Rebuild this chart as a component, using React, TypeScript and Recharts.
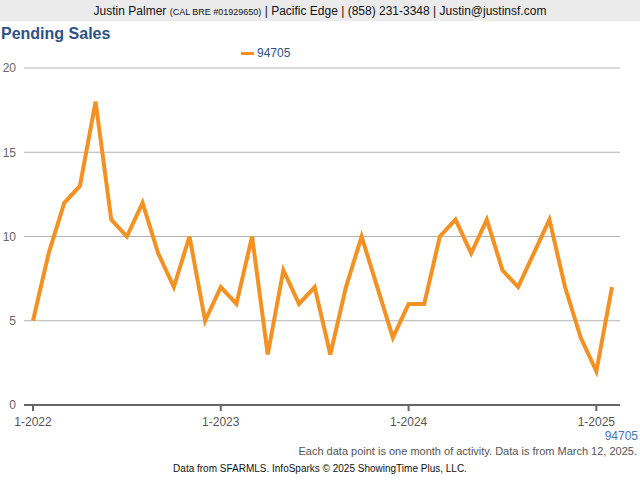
import React from 'react';
import {
  LineChart,
  Line,
  XAxis,
  YAxis,
  CartesianGrid,
} from 'recharts';

// Monthly pending sales, 94705, Jan 2022 – Feb 2025
const MONTHS = [
  '1-2022', '2-2022', '3-2022', '4-2022', '5-2022', '6-2022', '7-2022', '8-2022', '9-2022', '10-2022', '11-2022', '12-2022',
  '1-2023', '2-2023', '3-2023', '4-2023', '5-2023', '6-2023', '7-2023', '8-2023', '9-2023', '10-2023', '11-2023', '12-2023',
  '1-2024', '2-2024', '3-2024', '4-2024', '5-2024', '6-2024', '7-2024', '8-2024', '9-2024', '10-2024', '11-2024', '12-2024',
  '1-2025', '2-2025',
];
const PENDING = [
  5, 9, 12, 13, 18, 11, 10, 12, 9, 7, 10, 5,
  7, 6, 10, 3, 8, 6, 7, 3, 7, 10, 7, 4,
  6, 6, 10, 11, 9, 11, 8, 7, 9, 11, 7, 4,
  2, 7,
];
const Y_TICKS = [0, 5, 10, 15, 20];
const SERIES_NAME = '94705';

const ORANGE = '#F39122';
const BLUE = '#2E5283';
const FONT = '"Liberation Sans", Arial, Helvetica, sans-serif';

const data = MONTHS.map((m, i) => ({ month: m, value: PENDING[i] }));

export default function App() {
  return (
    <div
      style={{
        position: 'absolute',
        left: 0,
        top: 0,
        width: 640,
        height: 480,
        background: '#fff',
        fontFamily: FONT,
        overflow: 'hidden',
      }}
    >
      {/* header band */}
      <div
        style={{
          position: 'absolute',
          left: 0,
          top: 0,
          width: 640,
          height: 21,
          background: '#EBEBEB',
          textAlign: 'center',
          fontSize: 12,
          lineHeight: '22px',
          color: '#111',
        }}
      >
        Justin Palmer <span style={{ fontSize: 9 }}>(CAL BRE #01929650)</span> | Pacific Edge | (858) 231-3348 | Justin@justinsf.com
      </div>

      <div
        style={{
          position: 'absolute',
          left: 1,
          top: 25,
          fontSize: 16,
          fontWeight: 700,
          color: BLUE,
        }}
      >
        Pending Sales
      </div>

      {/* legend */}
      <div
        style={{
          position: 'absolute',
          left: 241,
          top: 46,
          display: 'flex',
          alignItems: 'center',
          fontSize: 12,
          color: BLUE,
        }}
      >
        <span style={{ display: 'inline-block', width: 13, height: 3, background: ORANGE, marginRight: 3 }} />
        {SERIES_NAME}
      </div>

      <div style={{ position: 'absolute', left: 0, top: 0 }}>
        <LineChart
          width={640}
          height={440}
          data={data}
          margin={{ top: 68, right: 20, bottom: 0, left: 0 }}
        >
          <CartesianGrid vertical={false} stroke="#B3B3B3" strokeWidth={1} />
          <XAxis
            dataKey="month"
            interval={11}
            height={35}
            padding={{ left: 9, right: 8 }}
            axisLine={{ stroke: '#666', strokeWidth: 2 }}
            tickLine={{ stroke: '#666', strokeWidth: 2 }}
            tickSize={6}
            tickMargin={6}
            tick={{ fontSize: 12, fill: '#555', fontFamily: FONT }}
          />
          <YAxis
            width={24}
            domain={[0, 20]}
            ticks={Y_TICKS}
            axisLine={false}
            tickLine={false}
            tick={{ fontSize: 12, fill: '#666', fontFamily: FONT }}
          />
          <Line
            type="linear"
            dataKey="value"
            stroke={ORANGE}
            strokeWidth={4}
            dot={false}
            isAnimationActive={false}
          />
        </LineChart>
      </div>

      <div
        style={{
          position: 'absolute',
          right: 2,
          top: 429,
          fontSize: 12,
          color: '#4A74A8',
        }}
      >
        {SERIES_NAME}
      </div>

      <div
        style={{
          position: 'absolute',
          right: 3,
          top: 445,
          fontSize: 11,
          color: '#555',
        }}
      >
        Each data point is one month of activity. Data is from March 12, 2025.
      </div>

      <div
        style={{
          position: 'absolute',
          left: 0,
          width: 640,
          top: 463,
          textAlign: 'center',
          fontSize: 10,
          color: '#111',
        }}
      >
        Data from SFARMLS. InfoSparks © 2025 ShowingTime Plus, LLC.
      </div>
    </div>
  );
}
